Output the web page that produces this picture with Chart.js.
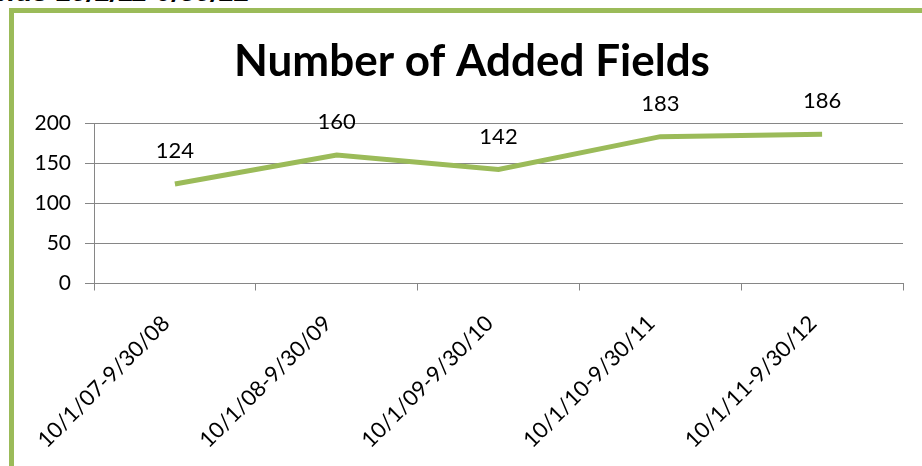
<!DOCTYPE html>
<html>
<head>
<meta charset="utf-8">
<script src="https://cdn.jsdelivr.net/npm/chart.js@4"></script>
<style>
  html, body { margin: 0; padding: 0; background: #fff; overflow: hidden; }
  #frame {
    position: absolute; left: 9px; top: 8px; width: 960px; height: 500px;
    border-left: 5px solid #9bbb59; border-top: 5px solid #9bbb59;
  }
  #cut {
    position: absolute; right: 672px; top: -22px; white-space: nowrap;
    font: italic bold 28px "Liberation Sans", sans-serif; line-height: 28px; color: #000;
  }
  #wrap { position: absolute; left: 0; top: 0; width: 922px; height: 466px; }
</style>
</head>
<body>
<div id="cut">Added Fields 10/1/11-9/30/12</div>
<div id="frame"></div>
<div id="wrap"><canvas id="chart" width="922" height="466"></canvas></div>
<script>
// Fiscal-year periods and the number of fields added in each
const periods = ["10/1/07-9/30/08", "10/1/08-9/30/09", "10/1/09-9/30/10", "10/1/10-9/30/11", "10/1/11-9/30/12"];
const addedFields = [124, 160, 142, 183, 186];
const yTicks = [0, 50, 100, 150, 200];

const FONT = "Lato";
const TITLE = "Number of Added Fields";

// Value labels above each point + the title (centred a bit right of the canvas middle)
const valueLabels = {
  id: "valueLabels",
  afterDatasetsDraw(chart) {
    const ctx = chart.ctx;
    const meta = chart.getDatasetMeta(0);
    ctx.save();
    ctx.font = "22px " + FONT;
    ctx.fillStyle = "#000";
    ctx.textAlign = "center";
    ctx.textBaseline = "middle";
    meta.data.forEach((pt, i) => {
      ctx.fillText(String(addedFields[i]), pt.x, pt.y - 33);
    });
    ctx.font = "bold 44px " + FONT;
    ctx.textBaseline = "alphabetic";
    ctx.fillText(TITLE, 472, 76);
    ctx.restore();
  },
};

new Chart(document.getElementById("chart").getContext("2d"), {
  type: "line",
  data: {
    labels: periods,
    datasets: [
      {
        label: TITLE,
        data: addedFields,
        borderColor: "#9bbb59",
        borderWidth: 5,
        pointRadius: 0,
        tension: 0,
        fill: false,
      },
    ],
  },
  options: {
    responsive: false,
    animation: false,
    layout: { padding: { top: 123, right: 19, bottom: 0, left: 0 } },
    plugins: {
      legend: { display: false },
      tooltip: { enabled: false },
      title: { display: false },
    },
    scales: {
      x: {
        offset: true,
        grid: {
          offset: true,
          drawOnChartArea: false,
          color: "#868686",
          tickLength: 7,
        },
        border: { color: "#868686", width: 1 },
        ticks: {
          color: "#000",
          font: { family: FONT, size: 22 },
          minRotation: 45,
          maxRotation: 45,
          padding: 20,
          labelOffset: -9,
        },
        afterFit(scale) {
          scale.height = 182.5;
        },
      },
      y: {
        min: 0,
        max: 200,
        afterBuildTicks(scale) {
          scale.ticks = yTicks.map((v) => ({ value: v }));
        },
        grid: { color: "#868686", tickLength: 9 },
        border: { color: "#868686", width: 1 },
        ticks: {
          color: "#000",
          font: { family: FONT, size: 21 },
          padding: 14,
        },
        afterFit(scale) {
          scale.width = 94;
        },
      },
    },
  },
  plugins: [valueLabels],
});
</script>
</body>
</html>
